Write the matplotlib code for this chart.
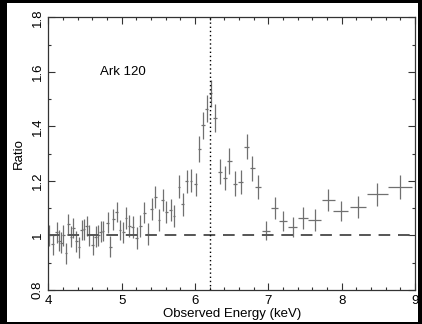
import matplotlib
matplotlib.use("Agg")
import matplotlib.pyplot as plt
from matplotlib.patches import Rectangle
from matplotlib.ticker import MultipleLocator
import numpy as np

# binned ratio data (energy in keV)
energy = [4.014, 4.059, 4.114, 4.150, 4.177, 4.205, 4.241, 4.273, 4.309, 4.341,
          4.382, 4.418, 4.455, 4.486, 4.523, 4.555, 4.605, 4.645, 4.682, 4.714,
          4.745, 4.809, 4.845, 4.886, 4.932, 4.977, 5.023, 5.059, 5.105, 5.150,
          5.205, 5.255, 5.309, 5.359, 5.409, 5.459, 5.509, 5.559, 5.609, 5.668,
          5.714, 5.782, 5.832, 5.886, 5.945, 6.009, 6.059, 6.109, 6.159, 6.214,
          6.273, 6.341, 6.409, 6.468, 6.545, 6.623, 6.705, 6.782, 6.864, 6.964,
          7.086, 7.205, 7.332, 7.477, 7.632, 7.818, 7.986, 8.227, 8.486, 8.795]
ratio = [1.000, 0.967, 1.011, 0.981, 0.974, 1.000, 0.934, 1.042, 0.995, 1.027,
         0.978, 0.956, 1.020, 1.022, 1.035, 1.000, 0.965, 0.996, 1.000, 1.014,
         1.016, 1.047, 0.959, 1.059, 1.086, 1.020, 1.011, 1.063, 1.035, 1.032,
         0.992, 1.035, 1.084, 1.005, 1.096, 1.140, 1.057, 1.129, 1.086, 1.093,
         1.071, 1.179, 1.115, 1.199, 1.201, 1.188, 1.317, 1.404, 1.465, 1.521,
         1.431, 1.234, 1.211, 1.273, 1.190, 1.196, 1.326, 1.246, 1.178, 1.018,
         1.102, 1.054, 1.032, 1.064, 1.057, 1.130, 1.090, 1.103, 1.151, 1.179]
ratio_err = [0.040, 0.038, 0.038, 0.038, 0.038, 0.038, 0.038, 0.038, 0.038, 0.038,
             0.038, 0.038, 0.038, 0.038, 0.038, 0.038, 0.038, 0.038, 0.038, 0.038,
             0.038, 0.038, 0.038, 0.038, 0.038, 0.038, 0.040, 0.040, 0.040, 0.040,
             0.040, 0.040, 0.040, 0.040, 0.040, 0.040, 0.040, 0.040, 0.040, 0.040,
             0.040, 0.042, 0.042, 0.042, 0.042, 0.042, 0.047, 0.050, 0.050, 0.050,
             0.050, 0.045, 0.045, 0.047, 0.045, 0.045, 0.047, 0.045, 0.043, 0.034,
             0.040, 0.037, 0.037, 0.040, 0.040, 0.040, 0.037, 0.040, 0.043, 0.044]
energy_hw = [0.018] * 46 + [0.022, 0.022, 0.022, 0.022, 0.025, 0.028, 0.028,
             0.030, 0.032, 0.034, 0.036, 0.038, 0.040, 0.055, 0.050, 0.055,
             0.065, 0.070, 0.085, 0.090, 0.100, 0.110, 0.140, 0.160]

line_energy = 6.2
label = "Ark 120"

plt.rcParams['font.family'] = ['Liberation Sans', 'DejaVu Sans']

fig = plt.figure(figsize=(4.22, 3.24), dpi=100, facecolor='black')
bg = Rectangle((7 / 422, 1 - 322 / 324), 411 / 422, 319 / 324,
               transform=fig.transFigure, facecolor='white', edgecolor='none')
bg.set_zorder(-10)
fig.patches.append(bg)
ax = fig.add_axes([0.1145, 0.105, 0.869, 0.8415])
ax.set_facecolor('white')

ax.errorbar(energy, ratio, yerr=ratio_err, xerr=energy_hw, fmt='none',
            ecolor='#707070', elinewidth=0.9, capsize=0)
ax.axhline(1.0, color='#555555', lw=1.4, ls=(0, (6, 4)))
ax.axvline(line_energy, color='black', lw=1.0, ls=(0, (1, 2)))

ax.text(4.71, 1.6, label, fontsize=9.5, va='center', ha='left')

ax.set_xlim(4, 9)
ax.set_ylim(0.8, 1.8)
ax.xaxis.set_major_locator(MultipleLocator(1))
ax.xaxis.set_minor_locator(MultipleLocator(0.2))
ax.yaxis.set_major_locator(MultipleLocator(0.2))
ax.yaxis.set_minor_locator(MultipleLocator(0.1))
ax.set_yticks([0.8, 1.0, 1.2, 1.4, 1.6, 1.8], ['0.8', '1', '1.2', '1.4', '1.6', '1.8'])
ax.tick_params(which='both', direction='in', top=True, right=True, labelsize=9.5,
               color='#333333')
ax.tick_params(which='major', length=5, width=0.8)
ax.tick_params(which='minor', length=2.5, width=0.8)
for lab in ax.get_yticklabels():
    lab.set_rotation(90)
    lab.set_va('center')
for s in ax.spines.values():
    s.set_color('#333333')
    s.set_linewidth(0.9)

ax.set_xlabel('Observed Energy (keV)', fontsize=9.5, labelpad=1)
ax.set_ylabel('Ratio', fontsize=9.5, labelpad=5)

fig.savefig('out.png', dpi=100, facecolor='black')
